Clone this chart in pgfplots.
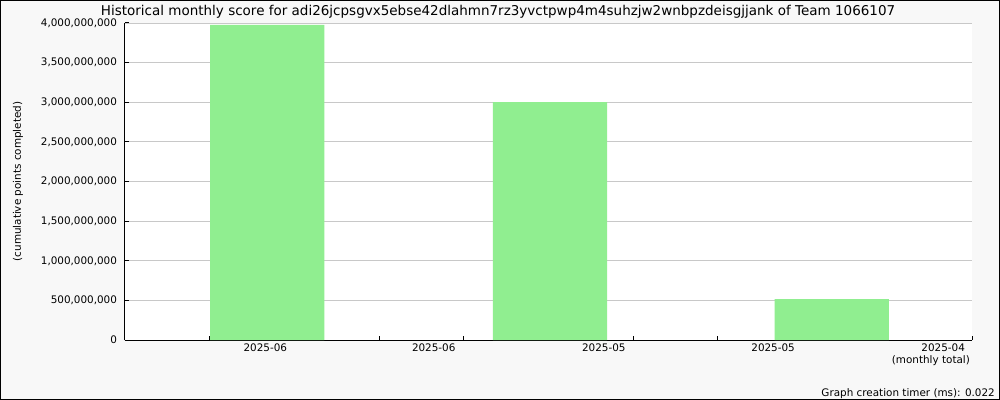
\documentclass[border=0pt]{standalone}
\usepackage{pgfplots}
\pgfplotsset{compat=1.18}
\usepackage{fontspec}
\setmainfont{DejaVu Sans}
\definecolor{barcol}{HTML}{90EE90}
\definecolor{bgcol}{HTML}{F8F8F8}
\definecolor{gridcol}{HTML}{C8C8C8}
\newcommand{\tfont}{\fontsize{10.4bp}{12.5bp}\selectfont}
\begin{document}
\begin{tikzpicture}
\path[use as bounding box] (-125bp,-60bp) rectangle (875bp,340bp);
\draw[line width=1bp, fill=bgcol] (-124.5bp,-59.5bp) rectangle (874.5bp,339.5bp);
\begin{axis}[
  at={(0,0)}, anchor=south west,
  scale only axis, width=847bp, height=317bp,
  axis background/.style={fill=white},
  axis lines=left, axis line style={-, line width=1bp, black},
  xmin=0, xmax=10, ymin=0, ymax=4e9,
  xtick={0,1,...,10}, xticklabels={},
  extra x ticks={1.657,3.645,5.653,7.652,9.515},
  extra x tick labels={2025-06,2025-06,2025-05,2025-05,{2025-04\hspace*{5bp}\\(monthly total)}},
  extra x tick style={major tick length=0pt, xticklabel style={align=right}},
  ytick={0,5e8,1e9,1.5e9,2e9,2.5e9,3e9,3.5e9,4e9},
  yticklabels={0,{500,000,000},{1,000,000,000},{1,500,000,000},{2,000,000,000},{2,500,000,000},{3,000,000,000},{3,500,000,000},{4,000,000,000}},
  scaled y ticks=false,
  ymajorgrids, grid style={gridcol, line width=0.8bp},
  major tick length=4.5bp, tick style={black, line width=1bp}, tick align=inside,
  ticklabel style={font=\tfont},
  yticklabel style={xshift=-4.5bp},
  ylabel={(cumulative points completed)},
  ylabel style={font=\tfont, at={(axis description cs:-0.1263,0.5)}, anchor=center},
  title={Historical monthly score for adi26jcpsgvx5ebse42dlahmn7rz3yvctpwp4m4suhzjw2wnbpzdeisgjjank of Team 1066107},
  title style={font=\fontsize{13.5bp}{16bp}\selectfont, at={(axis description cs:0.4404,1.0252)}, anchor=base, yshift=-6pt, inner sep=0pt},
  clip=false,
]
\addplot[ybar, bar width=1.349, bar shift=0pt, fill=barcol, draw=none] coordinates {(1.68,3.975e9) (5.018,3.0e9) (8.343,0.515e9)};
\node[anchor=base east, inner sep=0pt, font=\tfont] at (axis description cs:1.0272,-0.1767) {Graph creation timer (ms): 0.022};
\end{axis}
\end{tikzpicture}
\end{document}
